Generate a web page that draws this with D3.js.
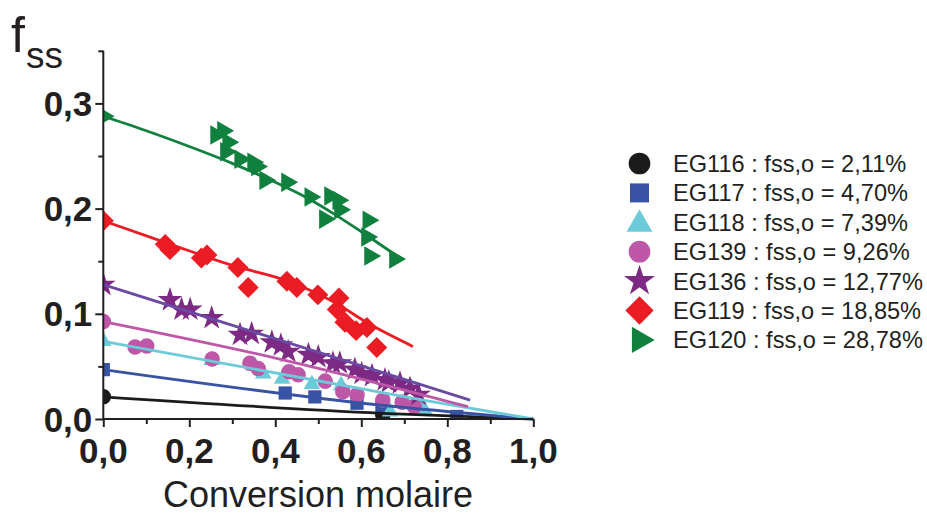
<!DOCTYPE html>
<html><head><meta charset="utf-8">
<script src="https://cdn.jsdelivr.net/npm/d3@7"></script>
<style>
html,body{margin:0;padding:0;background:#fff;}
svg{display:block;font-family:"Liberation Sans",Arial,Helvetica,sans-serif;}
</style></head>
<body>
<svg id="chart" width="927" height="514"></svg>
<script>
// ---------- data ----------
const seriesNames = ["EG116","EG117","EG118","EG139","EG136","EG119","EG120"];
const fssInit = ["2,11%","4,70%","7,39%","9,26%","12,77%","18,85%","28,78%"];
const xTicks = [0,0.2,0.4,0.6,0.8,1.0];
const xTickLabels = ["0,0","0,2","0,4","0,6","0,8","1,0"];
const yTicks = [0,0.1,0.2,0.3];
const yTickLabels = ["0,0","0,1","0,2","0,3"];

// measured points [conversion, fss]
const eg116Points = [[0,0.0211],[0.65,0.004]];
const eg117Points = [[0,0.047],[0.423,0.0247],[0.492,0.021],[0.590,0.015],[0.648,0.011],[0.822,0.0024]];
const eg118Points = [[0,0.0739],[0.252,0.056],[0.372,0.043],[0.416,0.038],[0.485,0.033],[0.553,0.032],[0.667,0.007],[0.736,0.015],[0.748,0.008]];
const eg139Points = [[0,0.0926],[0.074,0.0684],[0.101,0.0694],[0.253,0.057],[0.341,0.053],[0.360,0.048],[0.432,0.045],[0.453,0.042],[0.516,0.036],[0.557,0.026],[0.590,0.023],[0.650,0.018],[0.695,0.016],[0.723,0.012]];
const eg136Points = [[0,0.1277],[0.155,0.113],[0.182,0.104],[0.202,0.104],[0.252,0.096],[0.318,0.080],[0.345,0.081],[0.392,0.073],[0.413,0.070],[0.430,0.064],[0.477,0.061],[0.500,0.059],[0.534,0.053],[0.550,0.053],[0.585,0.047],[0.601,0.043],[0.625,0.041],[0.655,0.037],[0.664,0.035],[0.690,0.034],[0.713,0.029],[0.733,0.023]];
const eg119Points = [[0,0.1885],[0.144,0.166],[0.155,0.161],[0.228,0.153],[0.241,0.156],[0.313,0.144],[0.337,0.125],[0.427,0.131],[0.450,0.125],[0.499,0.118],[0.548,0.115],[0.544,0.104],[0.562,0.092],[0.588,0.084],[0.613,0.087],[0.636,0.068]];
const eg120Points = [[0,0.2878],[0.262,0.270],[0.278,0.274],[0.290,0.263],[0.285,0.254],[0.318,0.247],[0.348,0.244],[0.357,0.240],[0.376,0.227],[0.427,0.225],[0.481,0.211],[0.527,0.212],[0.546,0.208],[0.550,0.199],[0.515,0.190],[0.616,0.189],[0.613,0.173],[0.620,0.155],[0.678,0.152]];

// model curves [conversion, fss]
const eg116Fit = [[0,0.0211],[0.65,0.0054],[1,0]];
const eg117Fit = [[0,0.047],[0.643,0.0133],[1,0]];
const eg118Fit = [[0,0.0739],[0.744,0.018],[1,0]];
const eg139Fit = [[0,0.0926],[0.403,0.0577],[0.848,0.0117]];
const eg136Fit = [[0,0.1277],[0.853,0.018]];
const eg119Fit = [[0,0.1885],[0.15,0.167],[0.3,0.146],[0.43,0.131],[0.535,0.1115],[0.62,0.090],[0.72,0.069]];
const eg120Fit = [[0,0.2878],[0.1,0.274],[0.2,0.259],[0.3,0.243],[0.4,0.225],[0.47,0.211],[0.54,0.194],[0.6,0.178],[0.697,0.151]];

const allPoints = [eg116Points,eg117Points,eg118Points,eg139Points,eg136Points,eg119Points,eg120Points];
const allFits = [eg116Fit,eg117Fit,eg118Fit,eg139Fit,eg136Fit,eg119Fit,eg120Fit];

// ---------- styles ----------
const markerColors = ["#1b1b1b","#3953a4","#6dcbd9","#bf57a8","#7c2a84","#ec1c24","#10803f"];
const lineColors   = ["#1b1b1b","#3953a4","#6dcbd9","#bf57a8","#6a4aa2","#ec1c24","#10803f"];
// symbol type, plot size, legend size, rotation
const symbolDefs = [
  {t:d3.symbolCircle, s:190, ls:370, r:0},
  {t:d3.symbolSquare, s:175, ls:361, r:0},
  {t:d3.symbolTriangle, s:120, ls:290, r:0},
  {t:d3.symbolCircle, s:190, ls:370, r:0},
  {t:d3.symbolStar, s:190, ls:300, r:0},
  {t:d3.symbolSquare, s:220, ls:400, r:45},
  {t:d3.symbolTriangle, s:165, ls:300, r:90}
];

const svg = d3.select("#chart");
const x = d3.scaleLinear().domain([0,1]).range([103.3,533.3]);
const y = d3.scaleLinear().domain([0,0.35]).range([419,50.8]);
const ink = "#231f20";

svg.append("defs").append("clipPath").attr("id","plotclip")
  .append("rect").attr("x",x(0)).attr("y",y(0.35)-10).attr("width",x(1)-x(0)+10).attr("height",y(0)-y(0.35)+10);

// markers
const markG = svg.append("g").attr("clip-path","url(#plotclip)");
allPoints.forEach((pts,i)=>{
  const sd = symbolDefs[i];
  markG.append("g").selectAll("path").data(pts).join("path")
    .attr("d", d3.symbol().type(sd.t).size(sd.s)())
    .attr("transform", d=>`translate(${x(d[0])},${y(d[1])}) rotate(${sd.r})`)
    .attr("fill", markerColors[i]);
});

// fit lines
const line = d3.line().x(d=>x(d[0])).y(d=>y(d[1])).curve(d3.curveMonotoneX);
allFits.forEach((f,i)=>{
  svg.append("path").attr("d", line(f)).attr("fill","none")
    .attr("stroke", lineColors[i]).attr("stroke-width",2.8);
});

// axes
const xAxisG = svg.append("g").attr("transform",`translate(0,${y(0)})`);
xAxisG.call(d3.axisBottom(x).tickValues(d3.range(0,1.01,0.1)).tickSize(5).tickFormat(""));
xAxisG.call(g=>{
  g.selectAll(".tick line").attr("stroke",ink).attr("stroke-width",2)
   .attr("y2",(d)=> (Math.round(d*10)%2===0)?8:5);
  g.select(".domain").attr("stroke",ink).attr("stroke-width",2).attr("d",`M${x(0)},0H${x(1)}`);
});
xAxisG.selectAll("text.lbl").data(xTicks).join("text").attr("class","lbl")
  .attr("x",d=>x(d)).attr("y",44).attr("text-anchor","middle")
  .attr("font-size",35).attr("font-weight","bold").attr("fill",ink)
  .text((d,i)=>xTickLabels[i]);

const yAxisG = svg.append("g").attr("transform",`translate(${x(0)},0)`);
yAxisG.call(d3.axisLeft(y).tickValues(d3.range(0,0.351,0.05)).tickSize(5).tickFormat(""));
yAxisG.call(g=>{
  g.selectAll(".tick line").attr("stroke",ink).attr("stroke-width",2)
   .attr("x2",(d)=> (Math.round(d*20)%2===0)?-8:-5);
  g.select(".domain").attr("stroke",ink).attr("stroke-width",2).attr("d",`M0,${y(0)}V${y(0.35)}`);
});
yAxisG.selectAll("text.lbl").data(yTicks).join("text").attr("class","lbl")
  .attr("x",-11).attr("y",d=>y(d)+12.5).attr("text-anchor","end")
  .attr("font-size",35).attr("font-weight","bold").attr("fill",ink)
  .text((d,i)=>yTickLabels[i]);

// axis titles
svg.append("text").attr("x",318).attr("y",507).attr("text-anchor","middle")
  .attr("font-size",36).attr("fill",ink).text("Conversion molaire");
const yt = svg.append("text").attr("x",11).attr("y",52).attr("fill",ink);
yt.append("tspan").attr("font-size",50).text("f");
yt.append("tspan").attr("font-size",37).attr("dy",16).attr("dx",1).text("ss");

// legend
const lg = svg.append("g");
seriesNames.forEach((n,i)=>{
  const cy = 163.5 + i*29.4;
  const sd = symbolDefs[i];
  lg.append("path").attr("d", d3.symbol().type(sd.t).size(sd.ls)())
    .attr("transform",`translate(639.5,${cy + (sd.t===d3.symbolTriangle && sd.r===0 ? 2 : 0)}) rotate(${sd.r})`)
    .attr("fill", markerColors[i]);
  lg.append("text").attr("x",673).attr("y",cy+8.5).attr("font-size",23.6).attr("fill",ink)
    .text(`${n} : fss,o = ${fssInit[i]}`);
});
</script>
</body></html>
